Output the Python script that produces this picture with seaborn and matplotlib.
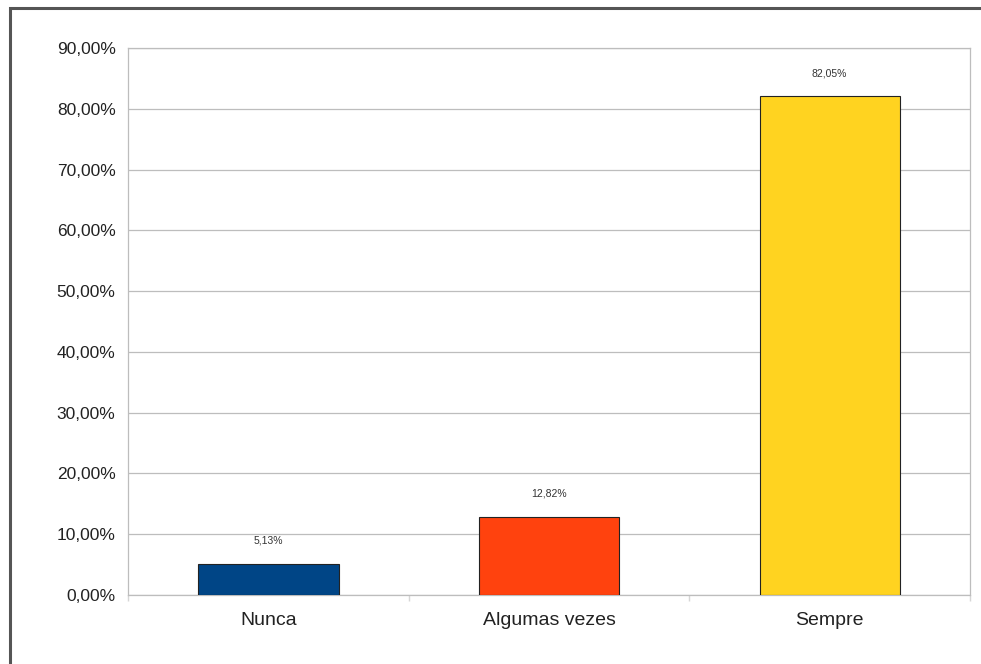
import matplotlib
matplotlib.use("Agg")
import matplotlib.pyplot as plt
import seaborn as sns
import pandas as pd
from matplotlib.ticker import FuncFormatter, MultipleLocator, FixedLocator
from matplotlib.patches import Rectangle

categories = ["Nunca", "Algumas vezes", "Sempre"]
values = [5.13, 12.82, 82.05]
colors = ["#004586", "#ff420e", "#ffd320"]

df = pd.DataFrame({"categoria": categories, "pct": values})

sns.set_theme(style="white")
plt.rcParams["font.family"] = ["Liberation Sans", "DejaVu Sans"]

fig = plt.figure(figsize=(9.81, 6.64), dpi=100)
ax = fig.add_axes([0.1305, 0.1039, 0.8583, 0.8238])

sns.barplot(data=df, x="categoria", y="pct", hue="categoria",
            palette=colors, legend=False, width=0.5, saturation=1,
            edgecolor="#222222", linewidth=0.8, ax=ax, zorder=3)

ax.set_ylim(0, 90)
ax.set_xlim(-0.5, 2.5)
ax.yaxis.set_major_locator(MultipleLocator(10))
ax.yaxis.set_major_formatter(FuncFormatter(lambda v, _: f"{v:.2f}%".replace(".", ",")))
ax.grid(axis="y", color="#bdbdbd", linewidth=0.9, zorder=0)
ax.set_xlabel("")
ax.set_ylabel("")

for s in ax.spines.values():
    s.set_color("#bdbdbd")
    s.set_linewidth(0.9)

# faint separators between categories below the x axis
ax.xaxis.set_minor_locator(FixedLocator([-0.5, 0.5, 1.5, 2.5]))
ax.tick_params(axis="x", which="minor", length=4, color="#d6d6d6", bottom=True)

ax.tick_params(axis="y", length=5, color="#bdbdbd", labelsize=12.5, pad=4, labelcolor="#222222")
ax.tick_params(axis="x", which="major", length=0, labelsize=14, pad=12, labelcolor="#222222")

for i, v in enumerate(values):
    ax.text(i, v + 3, f"{v:.2f}%".replace(".", ","), ha="center", va="bottom",
            fontsize=7.5, color="#333333")

# outer frame around the chart
fig.patches.append(Rectangle((10 / 981, -0.01), 1.0, 1 - 8 / 664 + 0.01,
                             transform=fig.transFigure, fill=False,
                             edgecolor="#555555", linewidth=2.2))

fig.savefig("out.png", dpi=100, facecolor="white")
